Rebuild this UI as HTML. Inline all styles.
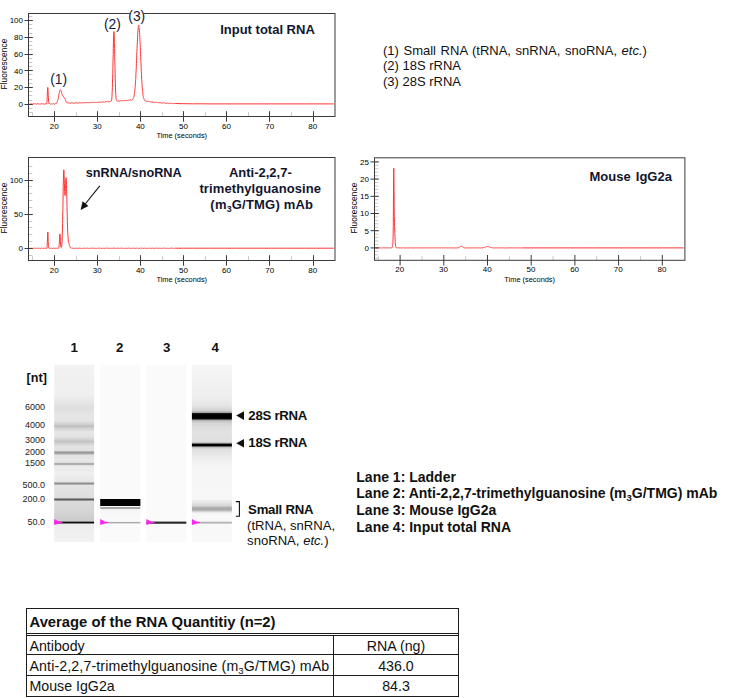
<!DOCTYPE html>
<html><head><meta charset="utf-8"><title>RNA immunoprecipitation</title>
<style>
html,body{margin:0;padding:0;background:#fff;}
body{width:734px;height:698px;position:relative;overflow:hidden;font-family:"Liberation Sans",sans-serif;color:#111;}
svg{position:absolute;left:0;top:0;}
svg text{font-family:"Liberation Sans",sans-serif;fill:#000;}
.tk{font-size:8px;}
.al{font-size:7.4px;}
.yl{font-size:8.3px;letter-spacing:0.1px;}
.t{position:absolute;white-space:nowrap;line-height:1;}
.b{font-weight:bold;}
.pk{font-size:13.8px;color:#15183a;}
.ttl{font-size:13px;font-weight:bold;color:#12152e;}
.sz{font-size:9px;color:#222;text-align:right;width:30px;}
.ln{font-size:13.3px;font-weight:bold;width:20px;text-align:center;}
.gl{font-size:13.2px;font-weight:bold;letter-spacing:-0.25px;}
sub{font-size:68%;vertical-align:baseline;position:relative;top:0.28em;line-height:0;}
table{position:absolute;left:26px;top:608px;border-collapse:separate;border-spacing:0;font-size:14.2px;table-layout:fixed;width:433px;}
td{border:0 solid #1c1c1c;border-left-width:1px;border-bottom-width:1px;padding:0 0 0 2.5px;box-sizing:border-box;white-space:nowrap;line-height:1;vertical-align:top;overflow:hidden;}
td.c{text-align:center;padding-left:0;border-right-width:1px;}
td.h{font-weight:bold;font-size:14.8px;height:28px;border-top-width:1px;border-right-width:1px;border-bottom:3px double #1c1c1c;padding-top:6.4px;}
tr.r2 td{height:19px;padding-top:2.7px;}
tr.r3 td{height:21px;padding-top:4px;}
tr.r4 td{height:21px;padding-top:3.2px;}
</style></head><body>
<svg width="734" height="698" viewBox="0 0 734 698">
<line x1="29.00" y1="112.50" x2="32.30" y2="112.50" stroke="#c8c8c8" stroke-width="1"/>
<line x1="29.00" y1="108.50" x2="32.30" y2="108.50" stroke="#c8c8c8" stroke-width="1"/>
<line x1="29.00" y1="104.50" x2="32.30" y2="104.50" stroke="#c8c8c8" stroke-width="1"/>
<line x1="29.00" y1="100.50" x2="32.30" y2="100.50" stroke="#c8c8c8" stroke-width="1"/>
<line x1="29.00" y1="95.50" x2="32.30" y2="95.50" stroke="#c8c8c8" stroke-width="1"/>
<line x1="29.00" y1="91.50" x2="32.30" y2="91.50" stroke="#c8c8c8" stroke-width="1"/>
<line x1="29.00" y1="87.50" x2="32.30" y2="87.50" stroke="#c8c8c8" stroke-width="1"/>
<line x1="29.00" y1="83.50" x2="32.30" y2="83.50" stroke="#c8c8c8" stroke-width="1"/>
<line x1="29.00" y1="79.50" x2="32.30" y2="79.50" stroke="#c8c8c8" stroke-width="1"/>
<line x1="29.00" y1="74.50" x2="32.30" y2="74.50" stroke="#c8c8c8" stroke-width="1"/>
<line x1="29.00" y1="70.50" x2="32.30" y2="70.50" stroke="#c8c8c8" stroke-width="1"/>
<line x1="29.00" y1="66.50" x2="32.30" y2="66.50" stroke="#c8c8c8" stroke-width="1"/>
<line x1="29.00" y1="62.50" x2="32.30" y2="62.50" stroke="#c8c8c8" stroke-width="1"/>
<line x1="29.00" y1="58.50" x2="32.30" y2="58.50" stroke="#c8c8c8" stroke-width="1"/>
<line x1="29.00" y1="54.50" x2="32.30" y2="54.50" stroke="#c8c8c8" stroke-width="1"/>
<line x1="29.00" y1="49.50" x2="32.30" y2="49.50" stroke="#c8c8c8" stroke-width="1"/>
<line x1="29.00" y1="45.50" x2="32.30" y2="45.50" stroke="#c8c8c8" stroke-width="1"/>
<line x1="29.00" y1="41.50" x2="32.30" y2="41.50" stroke="#c8c8c8" stroke-width="1"/>
<line x1="29.00" y1="37.50" x2="32.30" y2="37.50" stroke="#c8c8c8" stroke-width="1"/>
<line x1="29.00" y1="33.50" x2="32.30" y2="33.50" stroke="#c8c8c8" stroke-width="1"/>
<line x1="29.00" y1="28.50" x2="32.30" y2="28.50" stroke="#c8c8c8" stroke-width="1"/>
<line x1="29.00" y1="24.50" x2="32.30" y2="24.50" stroke="#c8c8c8" stroke-width="1"/>
<line x1="29.00" y1="20.50" x2="32.30" y2="20.50" stroke="#c8c8c8" stroke-width="1"/>
<line x1="29.00" y1="16.50" x2="32.30" y2="16.50" stroke="#c8c8c8" stroke-width="1"/>
<line x1="32.50" y1="112.30" x2="32.50" y2="116.50" stroke="#c8c8c8" stroke-width="1"/>
<line x1="76.50" y1="112.30" x2="76.50" y2="116.50" stroke="#c8c8c8" stroke-width="1"/>
<line x1="119.50" y1="112.30" x2="119.50" y2="116.50" stroke="#c8c8c8" stroke-width="1"/>
<line x1="162.50" y1="112.30" x2="162.50" y2="116.50" stroke="#c8c8c8" stroke-width="1"/>
<line x1="205.50" y1="112.30" x2="205.50" y2="116.50" stroke="#c8c8c8" stroke-width="1"/>
<line x1="248.50" y1="112.30" x2="248.50" y2="116.50" stroke="#c8c8c8" stroke-width="1"/>
<line x1="291.50" y1="112.30" x2="291.50" y2="116.50" stroke="#c8c8c8" stroke-width="1"/>
<polyline points="29.9,103.6 30.0,103.7 30.1,103.8 30.3,103.9 30.4,104.0 30.5,104.0 30.7,103.9 30.8,103.9 30.9,103.8 31.0,103.8 31.2,103.9 31.3,104.0 31.4,104.0 31.6,104.0 31.7,104.0 31.8,103.9 32.0,103.9 32.1,103.9 32.2,104.0 32.3,104.1 32.5,104.2 32.6,104.3 32.7,104.3 32.9,104.2 33.0,104.0 33.1,103.8 33.2,103.7 33.4,103.7 33.5,103.7 33.6,103.7 33.8,103.8 33.9,103.8 34.0,103.8 34.1,103.8 34.3,103.7 34.4,103.8 34.5,103.8 34.7,104.0 34.8,104.1 34.9,104.1 35.1,104.1 35.2,104.0 35.3,103.9 35.4,103.8 35.6,103.8 35.7,103.8 35.8,103.9 36.0,104.0 36.1,104.2 36.2,104.2 36.3,104.2 36.5,104.1 36.6,104.0 36.7,103.9 36.9,103.9 37.0,103.9 37.1,103.9 37.3,103.9 37.4,103.8 37.5,103.7 37.6,103.6 37.8,103.6 37.9,103.6 38.0,103.6 38.2,103.8 38.3,104.0 38.4,104.1 38.5,104.1 38.7,104.1 38.8,104.0 38.9,103.9 39.1,103.8 39.2,103.8 39.3,103.9 39.5,104.0 39.6,104.0 39.7,104.1 39.8,104.0 40.0,104.0 40.1,103.9 40.2,103.9 40.4,104.0 40.5,104.1 40.6,104.1 40.7,104.2 40.9,104.1 41.0,104.0 41.1,103.8 41.3,103.6 41.4,103.5 41.5,103.5 41.6,103.6 41.8,103.7 41.9,103.9 42.0,103.9 42.2,103.9 42.3,103.9 42.4,103.9 42.6,103.9 42.7,103.9 42.8,104.0 42.9,104.1 43.1,104.1 43.2,104.1 43.3,104.0 43.5,103.9 43.6,103.8 43.7,103.8 43.8,103.9 44.0,104.0 44.1,104.1 44.2,104.2 44.4,104.2 44.5,104.1 44.6,104.0 44.8,103.9 44.9,103.8 45.0,103.7 45.1,103.7 45.3,103.8 45.4,103.8 45.5,103.8 45.7,103.7 45.8,103.7 45.9,103.7 46.0,103.7 46.2,103.8 46.3,103.9 46.4,104.0 46.6,103.9 46.7,103.5 46.8,102.7 47.0,101.3 47.1,99.2 47.2,96.6 47.3,93.7 47.5,90.8 47.6,88.5 47.7,87.4 47.9,87.7 48.0,89.3 48.1,91.8 48.2,94.8 48.4,97.6 48.5,100.0 48.6,101.7 48.8,102.8 48.9,103.4 49.0,103.7 49.1,103.7 49.3,103.6 49.4,103.5 49.5,103.5 49.7,103.6 49.8,103.7 49.9,103.9 50.1,104.0 50.2,104.1 50.3,104.1 50.4,104.1 50.6,104.0 50.7,104.0 50.8,104.0 51.0,104.0 51.1,104.1 51.2,104.1 51.3,104.0 51.5,104.0 51.6,103.9 51.7,103.8 51.9,103.8 52.0,103.9 52.1,104.0 52.3,104.1 52.4,104.1 52.5,104.1 52.6,104.0 52.8,103.8 52.9,103.7 53.0,103.6 53.2,103.6 53.3,103.6 53.4,103.7 53.5,103.8 53.7,103.9 53.8,103.9 53.9,103.9 54.1,103.9 54.2,103.9 54.3,104.0 54.5,104.1 54.6,104.2 54.7,104.2 54.8,104.2 55.0,104.0 55.1,103.9 55.2,103.7 55.4,103.7 55.5,103.7 55.6,103.7 55.7,103.8 55.9,103.8 56.0,103.8 56.1,103.6 56.3,103.5 56.4,103.3 56.5,103.1 56.6,102.9 56.8,102.7 56.9,102.5 57.0,102.3 57.2,101.9 57.3,101.5 57.4,101.0 57.6,100.6 57.7,100.2 57.8,99.8 57.9,99.4 58.1,99.0 58.2,98.5 58.3,97.9 58.5,97.2 58.6,96.4 58.7,95.6 58.8,94.8 59.0,94.1 59.1,93.5 59.2,92.9 59.4,92.3 59.5,91.7 59.6,91.2 59.8,90.7 59.9,90.3 60.0,90.0 60.1,89.9 60.3,89.9 60.4,89.9 60.5,90.0 60.7,90.1 60.8,90.2 60.9,90.3 61.0,90.6 61.2,90.9 61.3,91.3 61.4,91.9 61.6,92.5 61.7,93.1 61.8,93.6 61.9,94.0 62.1,94.4 62.2,94.8 62.3,95.1 62.5,95.5 62.6,95.8 62.7,96.1 62.9,96.2 63.0,96.3 63.1,96.4 63.2,96.4 63.4,96.4 63.5,96.5 63.6,96.7 63.8,97.0 63.9,97.2 64.0,97.5 64.1,97.7 64.3,97.8 64.4,97.9 64.5,98.0 64.7,98.2 64.8,98.5 64.9,98.8 65.1,99.2 65.2,99.5 65.3,99.8 65.4,100.1 65.6,100.3 65.7,100.6 65.8,100.9 66.0,101.3 66.1,101.7 66.2,102.0 66.3,102.3 66.5,102.4 66.6,102.5 66.7,102.4 66.9,102.4 67.0,102.4 67.1,102.5 67.3,102.6 67.4,102.8 67.5,102.9 67.6,102.9 67.8,102.9 67.9,102.9 68.0,102.8 68.2,102.9 68.3,102.9 68.4,103.0 68.5,103.1 68.7,103.1 68.8,103.0 68.9,102.9 69.1,102.8 69.2,102.8 69.3,102.8 69.4,102.9 69.6,103.0 69.7,103.2 69.8,103.3 70.0,103.4 70.1,103.4 70.2,103.3 70.4,103.2 70.5,103.1 70.6,103.1 70.7,103.1 70.9,103.1 71.0,103.1 71.1,103.0 71.3,102.9 71.4,102.8 71.5,102.8 71.6,102.8 71.8,102.9 71.9,103.0 72.0,103.1 72.2,103.2 72.3,103.1 72.4,103.0 72.6,102.9 72.7,102.8 72.8,102.8 72.9,102.8 73.1,102.9 73.2,103.0 73.3,103.1 73.5,103.1 73.6,103.1 73.7,103.1 73.8,103.1 74.0,103.1 74.1,103.2 74.2,103.3 74.4,103.3 74.5,103.3 74.6,103.2 74.8,103.1 74.9,102.9 75.0,102.7 75.1,102.7 75.3,102.7 75.4,102.8 75.5,102.9 75.7,103.0 75.8,103.0 75.9,103.0 76.0,102.9 76.2,102.8 76.3,102.8 76.4,102.9 76.6,102.9 76.7,103.0 76.8,103.0 76.9,103.0 77.1,102.9 77.2,102.8 77.3,102.8 77.5,102.8 77.6,103.0 77.7,103.1 77.9,103.3 78.0,103.3 78.1,103.3 78.2,103.2 78.4,103.1 78.5,102.9 78.6,102.8 78.8,102.8 78.9,102.8 79.0,102.8 79.1,102.8 79.3,102.8 79.4,102.7 79.5,102.7 79.7,102.7 79.8,102.7 79.9,102.8 80.1,102.9 80.2,103.0 80.3,103.0 80.4,103.0 80.6,102.9 80.7,102.8 80.8,102.7 81.0,102.6 81.1,102.7 81.2,102.8 81.3,103.0 81.5,103.1 81.6,103.1 81.7,103.1 81.9,103.0 82.0,103.0 82.1,103.0 82.2,103.0 82.4,103.0 82.5,103.0 82.6,102.9 82.8,102.8 82.9,102.7 83.0,102.5 83.2,102.4 83.3,102.4 83.4,102.5 83.5,102.7 83.7,102.8 83.8,102.9 83.9,102.9 84.1,102.9 84.2,102.8 84.3,102.7 84.4,102.7 84.6,102.7 84.7,102.7 84.8,102.8 85.0,102.8 85.1,102.8 85.2,102.8 85.4,102.7 85.5,102.7 85.6,102.8 85.7,102.9 85.9,103.0 86.0,103.1 86.1,103.1 86.3,103.0 86.4,102.8 86.5,102.7 86.6,102.5 86.8,102.4 86.9,102.4 87.0,102.5 87.2,102.5 87.3,102.6 87.4,102.6 87.6,102.6 87.7,102.5 87.8,102.5 87.9,102.6 88.1,102.7 88.2,102.8 88.3,102.8 88.5,102.8 88.6,102.8 88.7,102.7 88.8,102.5 89.0,102.5 89.1,102.5 89.2,102.6 89.4,102.7 89.5,102.8 89.6,102.9 89.7,102.9 89.9,102.9 90.0,102.7 90.1,102.6 90.3,102.6 90.4,102.5 90.5,102.5 90.7,102.5 90.8,102.5 90.9,102.4 91.0,102.3 91.2,102.2 91.3,102.2 91.4,102.3 91.6,102.4 91.7,102.5 91.8,102.7 91.9,102.7 92.1,102.7 92.2,102.6 92.3,102.5 92.5,102.4 92.6,102.4 92.7,102.4 92.9,102.5 93.0,102.6 93.1,102.6 93.2,102.6 93.4,102.6 93.5,102.5 93.6,102.5 93.8,102.5 93.9,102.6 94.0,102.6 94.1,102.7 94.3,102.6 94.4,102.5 94.5,102.3 94.7,102.1 94.8,102.0 94.9,102.0 95.1,102.1 95.2,102.2 95.3,102.3 95.4,102.4 95.6,102.4 95.7,102.4 95.8,102.4 96.0,102.4 96.1,102.4 96.2,102.4 96.3,102.5 96.5,102.5 96.6,102.5 96.7,102.4 96.9,102.3 97.0,102.2 97.1,102.2 97.2,102.2 97.4,102.3 97.5,102.5 97.6,102.6 97.8,102.6 97.9,102.5 98.0,102.4 98.2,102.2 98.3,102.1 98.4,102.0 98.5,102.0 98.7,102.0 98.8,102.1 98.9,102.1 99.1,102.1 99.2,102.0 99.3,102.0 99.4,102.0 99.6,102.1 99.7,102.2 99.8,102.3 100.0,102.4 100.1,102.5 100.2,102.4 100.4,102.3 100.5,102.2 100.6,102.0 100.7,102.0 100.9,102.1 101.0,102.2 101.1,102.3 101.3,102.3 101.4,102.3 101.5,102.2 101.6,102.1 101.8,102.1 101.9,102.1 102.0,102.1 102.2,102.1 102.3,102.1 102.4,102.0 102.5,101.9 102.7,101.8 102.8,101.7 102.9,101.6 103.1,101.7 103.2,101.8 103.3,102.0 103.5,102.1 103.6,102.2 103.7,102.2 103.8,102.2 104.0,102.1 104.1,102.0 104.2,102.0 104.4,102.0 104.5,102.0 104.6,102.1 104.7,102.1 104.9,102.0 105.0,101.9 105.1,101.8 105.3,101.8 105.4,101.8 105.5,101.9 105.7,102.0 105.8,102.1 105.9,102.1 106.0,102.0 106.2,101.8 106.3,101.6 106.4,101.5 106.6,101.5 106.7,101.5 106.8,101.6 106.9,101.7 107.1,101.8 107.2,101.8 107.3,101.8 107.5,101.8 107.6,101.8 107.7,101.8 107.9,101.9 108.0,102.0 108.1,102.0 108.2,102.0 108.4,101.9 108.5,101.8 108.6,101.6 108.8,101.5 108.9,101.5 109.0,101.6 109.1,101.7 109.3,101.8 109.4,101.8 109.5,101.8 109.7,101.7 109.8,101.6 109.9,101.5 110.0,101.4 110.2,101.4 110.3,101.5 110.4,101.5 110.6,101.4 110.7,101.4 110.8,101.2 111.0,101.1 111.1,101.0 111.2,100.9 111.3,100.8 111.5,100.5 111.6,100.0 111.7,99.2 111.9,97.9 112.0,96.2 112.1,93.9 112.2,91.0 112.4,87.6 112.5,83.5 112.6,78.8 112.8,73.4 112.9,67.5 113.0,61.2 113.2,54.8 113.3,48.5 113.4,42.9 113.5,38.1 113.7,34.5 113.8,32.3 113.9,31.5 114.1,32.3 114.2,34.5 114.3,38.0 114.4,42.6 114.6,48.2 114.7,54.3 114.8,60.8 115.0,67.2 115.1,73.2 115.2,78.7 115.4,83.6 115.5,87.6 115.6,91.0 115.7,93.7 115.9,95.8 116.0,97.5 116.1,98.7 116.3,99.6 116.4,100.2 116.5,100.5 116.6,100.6 116.8,100.7 116.9,100.8 117.0,100.9 117.2,101.0 117.3,101.1 117.4,101.2 117.5,101.3 117.7,101.2 117.8,101.1 117.9,100.9 118.1,100.8 118.2,100.8 118.3,100.8 118.5,100.9 118.6,100.9 118.7,101.0 118.8,101.0 119.0,100.9 119.1,100.9 119.2,101.0 119.4,101.0 119.5,101.2 119.6,101.3 119.7,101.3 119.9,101.3 120.0,101.2 120.1,101.0 120.3,100.9 120.4,100.8 120.5,100.7 120.7,100.7 120.8,100.8 120.9,100.9 121.0,100.9 121.2,100.9 121.3,100.8 121.4,100.7 121.6,100.7 121.7,100.7 121.8,100.7 121.9,100.8 122.1,100.8 122.2,100.8 122.3,100.7 122.5,100.6 122.6,100.5 122.7,100.5 122.8,100.5 123.0,100.7 123.1,100.8 123.2,101.0 123.4,101.0 123.5,101.0 123.6,100.9 123.8,100.8 123.9,100.7 124.0,100.7 124.1,100.6 124.3,100.6 124.4,100.6 124.5,100.6 124.7,100.5 124.8,100.4 124.9,100.3 125.0,100.3 125.2,100.3 125.3,100.4 125.4,100.5 125.6,100.6 125.7,100.6 125.8,100.5 126.0,100.4 126.1,100.3 126.2,100.2 126.3,100.2 126.5,100.2 126.6,100.3 126.7,100.4 126.9,100.5 127.0,100.5 127.1,100.5 127.2,100.5 127.4,100.5 127.5,100.5 127.6,100.5 127.8,100.6 127.9,100.6 128.0,100.5 128.2,100.4 128.3,100.2 128.4,100.0 128.5,99.9 128.7,99.9 128.8,100.0 128.9,100.1 129.1,100.2 129.2,100.3 129.3,100.2 129.4,100.1 129.6,100.1 129.7,100.0 129.8,100.0 130.0,100.0 130.1,100.1 130.2,100.1 130.3,100.1 130.5,100.0 130.6,100.0 130.7,99.9 130.9,99.9 131.0,100.0 131.1,100.1 131.3,100.3 131.4,100.3 131.5,100.3 131.6,100.2 131.8,100.0 131.9,99.8 132.0,99.7 132.2,99.6 132.3,99.5 132.4,99.5 132.5,99.4 132.7,99.3 132.8,99.2 132.9,99.0 133.1,98.8 133.2,98.5 133.3,98.4 133.5,98.2 133.6,97.9 133.7,97.6 133.8,97.1 134.0,96.5 134.1,95.8 134.2,95.0 134.4,94.2 134.5,93.3 134.6,92.4 134.7,91.4 134.9,90.3 135.0,89.0 135.1,87.4 135.3,85.7 135.4,83.7 135.5,81.7 135.7,79.5 135.8,77.2 135.9,74.8 136.0,72.2 136.2,69.4 136.3,66.5 136.4,63.4 136.6,60.3 136.7,57.2 136.8,54.2 136.9,51.3 137.1,48.4 137.2,45.5 137.3,42.7 137.5,39.9 137.6,37.2 137.7,34.7 137.8,32.4 138.0,30.4 138.1,28.8 138.2,27.5 138.4,26.5 138.5,25.8 138.6,25.4 138.8,25.3 138.9,25.6 139.0,26.3 139.1,27.4 139.3,28.8 139.4,30.5 139.5,32.4 139.7,34.5 139.8,36.8 139.9,39.2 140.0,41.7 140.2,44.5 140.3,47.5 140.4,50.6 140.6,53.7 140.7,56.9 140.8,60.1 141.0,63.1 141.1,66.0 141.2,68.9 141.3,71.7 141.5,74.4 141.6,77.0 141.7,79.4 141.9,81.7 142.0,83.7 142.1,85.6 142.2,87.2 142.4,88.8 142.5,90.2 142.6,91.6 142.8,92.9 142.9,94.2 143.0,95.2 143.1,96.1 143.3,96.8 143.4,97.3 143.5,97.8 143.7,98.2 143.8,98.5 143.9,98.9 144.1,99.2 144.2,99.5 144.3,99.7 144.4,99.8 144.6,99.9 144.7,100.1 144.8,100.2 145.0,100.4 145.1,100.6 145.2,100.9 145.3,101.0 145.5,101.1 145.6,101.1 145.7,101.0 145.9,101.0 146.0,100.9 146.1,101.0 146.3,101.1 146.4,101.2 146.5,101.3 146.6,101.4 146.8,101.4 146.9,101.4 147.0,101.4 147.2,101.4 147.3,101.4 147.4,101.5 147.5,101.6 147.7,101.6 147.8,101.5 147.9,101.4 148.1,101.2 148.2,101.1 148.3,101.1 148.5,101.2 148.6,101.3 148.7,101.5 148.8,101.6 149.0,101.7 149.1,101.7 149.2,101.7 149.4,101.7 149.5,101.7 149.6,101.7 149.7,101.8 149.9,101.9 150.0,101.9 150.1,101.9 150.3,101.9 150.4,101.8 150.5,101.8 150.6,101.8 150.8,101.9 150.9,102.0 151.0,102.1 151.2,102.2 151.3,102.2 151.4,102.1 151.6,102.0 151.7,101.8 151.8,101.8 151.9,101.7 152.1,101.8 152.2,101.9 152.3,101.9 152.5,102.0 152.6,102.0 152.7,102.0 152.8,102.0 153.0,102.0 153.1,102.2 153.2,102.3 153.4,102.4 153.5,102.5 153.6,102.5 153.8,102.4 153.9,102.3 154.0,102.2 154.1,102.1 154.3,102.2 154.4,102.3 154.5,102.4 154.7,102.5 154.8,102.6 154.9,102.6 155.0,102.5 155.2,102.4 155.3,102.4 155.4,102.4 155.6,102.4 155.7,102.4 155.8,102.4 156.0,102.4 156.1,102.3 156.2,102.2 156.3,102.1 156.5,102.2 156.6,102.3 156.7,102.5 156.9,102.6 157.0,102.8 157.1,102.9 157.2,102.8 157.4,102.8 157.5,102.7 157.6,102.6 157.8,102.6 157.9,102.7 158.0,102.8 158.1,102.8 158.3,102.8 158.4,102.7 158.5,102.7 158.7,102.6 158.8,102.7 158.9,102.7 159.1,102.8 159.2,102.9 159.3,102.9 159.4,102.9 159.6,102.8 159.7,102.6 159.8,102.5 160.0,102.4 160.1,102.4 160.2,102.6 160.3,102.7 160.5,102.8 160.6,102.9 160.7,102.9 160.9,102.9 161.0,102.9 161.1,102.9 161.3,103.0 161.4,103.1 161.5,103.2 161.6,103.2 161.8,103.1 161.9,103.0 162.0,102.9 162.2,102.8 162.3,102.8 162.4,102.9 162.5,103.0 162.7,103.1 162.8,103.2 162.9,103.2 163.1,103.1 163.2,103.0 163.3,102.9 163.4,102.8 163.6,102.8 163.7,102.9 163.8,102.9 164.0,102.9 164.1,102.9 164.2,102.9 164.4,102.9 164.5,102.9 164.6,102.9 164.7,103.1 164.9,103.3 165.0,103.4 165.1,103.5 165.3,103.5 165.4,103.4 165.5,103.3 165.6,103.2 165.8,103.1 165.9,103.1 166.0,103.1 166.2,103.2 166.3,103.3 166.4,103.3 166.6,103.2 166.7,103.2 166.8,103.1 166.9,103.1 167.1,103.2 167.2,103.2 167.3,103.3 167.5,103.3 167.6,103.2 167.7,103.1 167.8,103.0 168.0,102.9 168.1,102.9 168.2,103.0 168.4,103.2 168.5,103.3 168.6,103.5 168.8,103.6 168.9,103.6 169.0,103.5 169.1,103.4 169.3,103.4 169.4,103.4 169.5,103.5 169.7,103.5 169.8,103.5 169.9,103.4 170.0,103.3 170.2,103.2 170.3,103.2 170.4,103.2 170.6,103.2 170.7,103.4 170.8,103.5 170.9,103.5 171.1,103.5 171.2,103.4 171.3,103.3 171.5,103.2 171.6,103.1 171.7,103.1 171.9,103.2 172.0,103.3 172.1,103.4 172.2,103.4 172.4,103.4 172.5,103.4 172.6,103.4 172.8,103.5 172.9,103.6 173.0,103.7 173.1,103.8 173.3,103.8 173.4,103.8 173.5,103.6 173.7,103.5 173.8,103.3 173.9,103.3 174.1,103.3 174.2,103.4 174.3,103.5 174.4,103.6 174.6,103.6 174.7,103.5 174.8,103.5 175.0,103.4 175.1,103.4 175.2,103.5 183.8,103.7 192.5,103.8 201.1,103.8 209.7,103.9 218.3,103.9 226.9,103.9 235.6,103.9 244.2,103.9 252.8,103.9 261.4,103.9 270.0,103.9 278.7,103.9 287.3,103.9 295.9,103.9 304.5,103.9 313.1,103.9 321.8,103.9 330.4,103.9 333.8,103.9" fill="none" stroke="#ff3434" stroke-width="1.0" stroke-linejoin="round"/>
<rect x="28.50" y="13.50" width="306.50" height="103.00" fill="none" stroke="#3a3a3a" stroke-width="1"/>
<line x1="24.50" y1="104.50" x2="32.80" y2="104.50" stroke="#3a3a3a" stroke-width="1"/>
<text x="23.00" y="107.15" text-anchor="end" class="tk">0</text>
<line x1="24.50" y1="87.50" x2="32.80" y2="87.50" stroke="#3a3a3a" stroke-width="1"/>
<text x="23.00" y="90.40" text-anchor="end" class="tk">20</text>
<line x1="24.50" y1="70.50" x2="32.80" y2="70.50" stroke="#3a3a3a" stroke-width="1"/>
<text x="23.00" y="73.65" text-anchor="end" class="tk">40</text>
<line x1="24.50" y1="54.50" x2="32.80" y2="54.50" stroke="#3a3a3a" stroke-width="1"/>
<text x="23.00" y="56.90" text-anchor="end" class="tk">60</text>
<line x1="24.50" y1="37.50" x2="32.80" y2="37.50" stroke="#3a3a3a" stroke-width="1"/>
<text x="23.00" y="40.15" text-anchor="end" class="tk">80</text>
<line x1="24.50" y1="20.50" x2="32.80" y2="20.50" stroke="#3a3a3a" stroke-width="1"/>
<text x="23.00" y="23.40" text-anchor="end" class="tk">100</text>
<line x1="54.50" y1="111.20" x2="54.50" y2="121.70" stroke="#3a3a3a" stroke-width="1"/>
<text x="54.15" y="128.50" text-anchor="middle" class="tk">20</text>
<line x1="97.50" y1="111.20" x2="97.50" y2="121.70" stroke="#3a3a3a" stroke-width="1"/>
<text x="97.25" y="128.50" text-anchor="middle" class="tk">30</text>
<line x1="140.50" y1="111.20" x2="140.50" y2="121.70" stroke="#3a3a3a" stroke-width="1"/>
<text x="140.35" y="128.50" text-anchor="middle" class="tk">40</text>
<line x1="183.50" y1="111.20" x2="183.50" y2="121.70" stroke="#3a3a3a" stroke-width="1"/>
<text x="183.45" y="128.50" text-anchor="middle" class="tk">50</text>
<line x1="226.50" y1="111.20" x2="226.50" y2="121.70" stroke="#3a3a3a" stroke-width="1"/>
<text x="226.55" y="128.50" text-anchor="middle" class="tk">60</text>
<line x1="269.50" y1="111.20" x2="269.50" y2="121.70" stroke="#3a3a3a" stroke-width="1"/>
<text x="269.65" y="128.50" text-anchor="middle" class="tk">70</text>
<line x1="313.50" y1="111.20" x2="313.50" y2="121.70" stroke="#3a3a3a" stroke-width="1"/>
<text x="312.75" y="128.50" text-anchor="middle" class="tk">80</text>
<text x="181.75" y="138.00" text-anchor="middle" class="al">Time (seconds)</text>
<text transform="translate(7.00,64.00) rotate(-90)" text-anchor="middle" class="yl">Fluorescence</text>
<rect x="129.8" y="12" width="14" height="3" fill="#fff"/>
<line x1="29.00" y1="255.50" x2="32.30" y2="255.50" stroke="#c8c8c8" stroke-width="1"/>
<line x1="29.00" y1="248.50" x2="32.30" y2="248.50" stroke="#c8c8c8" stroke-width="1"/>
<line x1="29.00" y1="241.50" x2="32.30" y2="241.50" stroke="#c8c8c8" stroke-width="1"/>
<line x1="29.00" y1="234.50" x2="32.30" y2="234.50" stroke="#c8c8c8" stroke-width="1"/>
<line x1="29.00" y1="227.50" x2="32.30" y2="227.50" stroke="#c8c8c8" stroke-width="1"/>
<line x1="29.00" y1="221.50" x2="32.30" y2="221.50" stroke="#c8c8c8" stroke-width="1"/>
<line x1="29.00" y1="214.50" x2="32.30" y2="214.50" stroke="#c8c8c8" stroke-width="1"/>
<line x1="29.00" y1="207.50" x2="32.30" y2="207.50" stroke="#c8c8c8" stroke-width="1"/>
<line x1="29.00" y1="200.50" x2="32.30" y2="200.50" stroke="#c8c8c8" stroke-width="1"/>
<line x1="29.00" y1="193.50" x2="32.30" y2="193.50" stroke="#c8c8c8" stroke-width="1"/>
<line x1="29.00" y1="186.50" x2="32.30" y2="186.50" stroke="#c8c8c8" stroke-width="1"/>
<line x1="29.00" y1="180.50" x2="32.30" y2="180.50" stroke="#c8c8c8" stroke-width="1"/>
<line x1="29.00" y1="173.50" x2="32.30" y2="173.50" stroke="#c8c8c8" stroke-width="1"/>
<line x1="29.00" y1="166.50" x2="32.30" y2="166.50" stroke="#c8c8c8" stroke-width="1"/>
<line x1="32.50" y1="256.30" x2="32.50" y2="260.50" stroke="#c8c8c8" stroke-width="1"/>
<line x1="76.50" y1="256.30" x2="76.50" y2="260.50" stroke="#c8c8c8" stroke-width="1"/>
<line x1="119.50" y1="256.30" x2="119.50" y2="260.50" stroke="#c8c8c8" stroke-width="1"/>
<line x1="162.50" y1="256.30" x2="162.50" y2="260.50" stroke="#c8c8c8" stroke-width="1"/>
<line x1="205.50" y1="256.30" x2="205.50" y2="260.50" stroke="#c8c8c8" stroke-width="1"/>
<line x1="248.50" y1="256.30" x2="248.50" y2="260.50" stroke="#c8c8c8" stroke-width="1"/>
<line x1="291.50" y1="256.30" x2="291.50" y2="260.50" stroke="#c8c8c8" stroke-width="1"/>
<polyline points="29.9,248.0 30.0,248.1 30.1,248.2 30.3,248.3 30.4,248.3 30.5,248.3 30.7,248.3 30.8,248.2 30.9,248.2 31.0,248.2 31.2,248.2 31.3,248.3 31.4,248.3 31.6,248.3 31.7,248.3 31.8,248.2 32.0,248.2 32.1,248.2 32.2,248.3 32.3,248.4 32.5,248.4 32.6,248.5 32.7,248.5 32.9,248.4 33.0,248.3 33.1,248.2 33.2,248.1 33.4,248.1 33.5,248.1 33.6,248.1 33.8,248.2 33.9,248.2 34.0,248.2 34.1,248.1 34.3,248.1 34.4,248.1 34.5,248.2 34.7,248.3 34.8,248.3 34.9,248.4 35.1,248.4 35.2,248.3 35.3,248.2 35.4,248.2 35.6,248.1 35.7,248.2 35.8,248.2 36.0,248.3 36.1,248.4 36.2,248.4 36.3,248.4 36.5,248.4 36.6,248.3 36.7,248.3 36.9,248.2 37.0,248.2 37.1,248.3 37.3,248.2 37.4,248.2 37.5,248.1 37.6,248.1 37.8,248.0 37.9,248.0 38.0,248.1 38.2,248.2 38.3,248.3 38.4,248.4 38.5,248.4 38.7,248.4 38.8,248.3 38.9,248.2 39.1,248.2 39.2,248.2 39.3,248.2 39.5,248.3 39.6,248.3 39.7,248.3 39.8,248.3 40.0,248.3 40.1,248.3 40.2,248.3 40.4,248.3 40.5,248.3 40.6,248.4 40.7,248.4 40.9,248.4 41.0,248.3 41.1,248.2 41.3,248.1 41.4,248.0 41.5,248.0 41.6,248.0 41.8,248.1 41.9,248.2 42.0,248.2 42.2,248.3 42.3,248.2 42.4,248.2 42.6,248.2 42.7,248.3 42.8,248.3 42.9,248.4 43.1,248.4 43.2,248.4 43.3,248.3 43.5,248.2 43.6,248.2 43.7,248.2 43.8,248.2 44.0,248.3 44.1,248.4 44.2,248.4 44.4,248.4 44.5,248.4 44.6,248.3 44.8,248.2 44.9,248.1 45.0,248.1 45.1,248.1 45.3,248.1 45.4,248.2 45.5,248.1 45.7,248.1 45.8,248.1 45.9,248.1 46.0,248.1 46.2,248.2 46.3,248.3 46.4,248.4 46.6,248.4 46.7,248.4 46.8,248.2 47.0,247.8 47.1,247.0 47.2,245.3 47.3,242.6 47.5,238.9 47.6,235.1 47.7,232.5 47.9,232.1 48.0,234.1 48.1,237.7 48.2,241.5 48.4,244.6 48.5,246.6 48.6,247.6 48.8,248.1 48.9,248.2 49.0,248.2 49.1,248.1 49.3,248.1 49.4,248.0 49.5,248.0 49.7,248.0 49.8,248.1 49.9,248.2 50.1,248.3 50.2,248.4 50.3,248.4 50.4,248.3 50.6,248.3 50.7,248.3 50.8,248.3 51.0,248.3 51.1,248.3 51.2,248.4 51.3,248.3 51.5,248.3 51.6,248.2 51.7,248.2 51.9,248.2 52.0,248.2 52.1,248.3 52.3,248.4 52.4,248.4 52.5,248.4 52.6,248.3 52.8,248.2 52.9,248.1 53.0,248.0 53.2,248.0 53.3,248.1 53.4,248.1 53.5,248.2 53.7,248.2 53.8,248.2 53.9,248.2 54.1,248.2 54.2,248.2 54.3,248.3 54.5,248.4 54.6,248.4 54.7,248.5 54.8,248.4 55.0,248.4 55.1,248.3 55.2,248.2 55.4,248.1 55.5,248.2 55.6,248.2 55.7,248.3 55.9,248.3 56.0,248.4 56.1,248.3 56.3,248.3 56.4,248.2 56.5,248.2 56.6,248.2 56.8,248.2 56.9,248.2 57.0,248.2 57.2,248.2 57.3,248.1 57.4,248.1 57.6,248.0 57.7,248.1 57.8,248.2 57.9,248.3 58.1,248.4 58.2,248.5 58.3,248.5 58.5,248.4 58.6,248.3 58.7,248.0 58.8,247.6 59.0,247.0 59.1,245.9 59.2,244.3 59.4,242.1 59.5,239.6 59.6,237.0 59.8,234.9 59.9,233.9 60.0,234.1 60.1,235.5 60.3,237.8 60.4,240.5 60.5,242.9 60.7,244.9 60.8,246.2 60.9,247.0 61.0,247.4 61.2,247.5 61.3,247.4 61.4,247.2 61.6,246.8 61.7,246.1 61.8,245.0 61.9,243.3 62.1,241.0 62.2,238.0 62.3,234.0 62.5,229.2 62.6,223.5 62.7,216.9 62.9,209.6 63.0,201.8 63.1,194.0 63.2,186.5 63.4,180.0 63.5,174.9 63.6,171.4 63.8,169.8 63.9,170.1 64.0,172.0 64.1,175.2 64.3,179.3 64.4,183.7 64.5,188.0 64.7,191.6 64.8,194.1 64.9,195.4 65.1,195.4 65.2,194.0 65.3,191.6 65.4,188.5 65.6,185.2 65.7,182.0 65.8,179.5 66.0,178.0 66.1,177.7 66.2,178.7 66.3,181.0 66.5,184.5 66.6,188.9 66.7,194.1 66.9,199.7 67.0,205.5 67.1,211.3 67.3,216.8 67.4,221.8 67.5,226.2 67.6,229.9 67.8,232.9 67.9,235.4 68.0,237.3 68.2,238.8 68.3,240.0 68.4,241.0 68.5,241.8 68.7,242.5 68.8,243.0 68.9,243.4 69.1,243.8 69.2,244.2 69.3,244.7 69.4,245.2 69.6,245.7 69.7,246.2 69.8,246.6 70.0,246.9 70.1,247.2 70.2,247.4 70.4,247.5 70.5,247.7 70.6,247.8 70.7,247.9 70.9,248.0 71.0,248.1 71.1,248.1 71.3,248.1 71.4,248.0 71.5,248.0 71.6,248.0 71.8,248.1 71.9,248.2 72.0,248.3 72.2,248.3 72.3,248.3 72.4,248.3 72.6,248.2 72.7,248.1 72.8,248.1 72.9,248.1 73.1,248.2 73.2,248.2 73.3,248.3 73.5,248.3 73.6,248.3 73.7,248.3 73.8,248.3 74.0,248.3 74.1,248.4 74.2,248.4 74.4,248.5 74.5,248.5 74.6,248.4 74.8,248.3 74.9,248.2 75.0,248.1 75.1,248.1 75.3,248.1 75.4,248.1 75.5,248.2 75.7,248.3 75.8,248.3 75.9,248.2 76.0,248.2 76.2,248.2 76.3,248.2 76.4,248.2 76.6,248.2 76.7,248.3 76.8,248.3 76.9,248.2 77.1,248.2 77.2,248.2 77.3,248.1 77.5,248.2 77.6,248.3 77.7,248.4 77.9,248.5 78.0,248.5 78.1,248.5 78.2,248.4 78.4,248.3 78.5,248.3 78.6,248.2 78.8,248.2 78.9,248.2 79.0,248.2 79.1,248.2 79.3,248.2 79.4,248.1 79.5,248.1 79.7,248.1 79.8,248.1 79.9,248.2 80.1,248.3 80.2,248.3 80.3,248.3 80.4,248.3 80.6,248.3 80.7,248.2 80.8,248.1 81.0,248.1 81.1,248.1 81.2,248.2 81.3,248.3 81.5,248.4 81.6,248.4 81.7,248.4 81.9,248.4 82.0,248.3 82.1,248.3 82.2,248.3 82.4,248.4 82.5,248.4 82.6,248.3 82.8,248.3 82.9,248.2 83.0,248.1 83.2,248.0 83.3,248.0 83.4,248.1 83.5,248.2 83.7,248.2 83.8,248.3 83.9,248.3 84.1,248.3 84.2,248.2 84.3,248.2 84.4,248.2 84.6,248.2 84.7,248.2 84.8,248.3 85.0,248.3 85.1,248.3 85.2,248.3 85.4,248.2 85.5,248.2 85.6,248.3 85.7,248.3 85.9,248.4 86.0,248.5 86.1,248.5 86.3,248.4 86.4,248.3 86.5,248.2 86.6,248.1 86.8,248.1 86.9,248.1 87.0,248.1 87.2,248.1 87.3,248.2 87.4,248.2 87.6,248.2 87.7,248.2 87.8,248.2 87.9,248.2 88.1,248.2 88.2,248.3 88.3,248.4 88.5,248.4 88.6,248.3 88.7,248.3 88.8,248.2 89.0,248.1 89.1,248.2 89.2,248.2 89.4,248.3 89.5,248.4 89.6,248.5 89.7,248.5 89.9,248.4 90.0,248.3 90.1,248.3 90.3,248.2 90.4,248.2 90.5,248.2 90.7,248.2 90.8,248.2 90.9,248.2 91.0,248.1 91.2,248.0 91.3,248.0 91.4,248.1 91.6,248.1 91.7,248.2 91.8,248.3 91.9,248.4 92.1,248.4 92.2,248.3 92.3,248.3 92.5,248.2 92.6,248.2 92.7,248.2 92.9,248.3 93.0,248.3 93.1,248.3 93.2,248.3 93.4,248.3 93.5,248.3 93.6,248.3 93.8,248.3 93.9,248.3 94.0,248.4 94.1,248.4 94.3,248.4 94.4,248.3 94.5,248.2 94.7,248.1 94.8,248.0 94.9,248.0 95.1,248.0 95.2,248.1 95.3,248.2 95.4,248.3 95.6,248.3 95.7,248.3 95.8,248.3 96.0,248.2 96.1,248.2 96.2,248.3 96.3,248.3 96.5,248.4 96.6,248.4 96.7,248.3 96.9,248.3 97.0,248.2 97.1,248.2 97.2,248.2 97.4,248.3 97.5,248.3 97.6,248.4 97.8,248.4 97.9,248.4 98.0,248.3 98.2,248.2 98.3,248.1 98.4,248.1 98.5,248.1 98.7,248.1 98.8,248.1 98.9,248.2 99.1,248.1 99.2,248.1 99.3,248.1 99.4,248.1 99.6,248.2 99.7,248.3 99.8,248.4 100.0,248.4 100.1,248.4 100.2,248.4 100.4,248.3 100.5,248.2 100.6,248.2 100.7,248.2 100.9,248.2 101.0,248.3 101.1,248.3 101.3,248.4 101.4,248.4 101.5,248.3 101.6,248.3 101.8,248.2 101.9,248.2 102.0,248.2 102.2,248.3 102.3,248.3 102.4,248.2 102.5,248.2 102.7,248.1 102.8,248.0 102.9,248.0 103.1,248.0 103.2,248.1 103.3,248.2 103.5,248.3 103.6,248.4 103.7,248.4 103.8,248.4 104.0,248.3 104.1,248.3 104.2,248.3 104.4,248.3 104.5,248.3 104.6,248.3 104.7,248.3 104.9,248.3 105.0,248.3 105.1,248.2 105.3,248.2 105.4,248.2 105.5,248.3 105.7,248.3 105.8,248.4 105.9,248.4 106.0,248.3 106.2,248.2 106.3,248.1 106.4,248.0 106.6,248.0 106.7,248.0 106.8,248.1 106.9,248.2 107.1,248.2 107.2,248.2 107.3,248.2 107.5,248.2 107.6,248.3 107.7,248.3 107.9,248.3 108.0,248.4 108.1,248.4 108.2,248.4 108.4,248.4 108.5,248.3 108.6,248.2 108.8,248.1 108.9,248.1 109.0,248.2 109.1,248.3 109.3,248.3 109.4,248.4 109.5,248.4 109.7,248.3 109.8,248.2 109.9,248.2 110.0,248.1 110.2,248.1 110.3,248.2 110.4,248.2 110.6,248.2 110.7,248.1 110.8,248.1 111.0,248.1 111.1,248.1 111.2,248.1 111.3,248.2 111.5,248.4 111.6,248.4 111.7,248.5 111.9,248.5 112.0,248.4 112.1,248.3 112.2,248.2 112.4,248.2 112.5,248.2 112.6,248.3 112.8,248.3 112.9,248.3 113.0,248.3 113.2,248.2 113.3,248.2 113.4,248.2 113.5,248.2 113.7,248.2 113.8,248.3 113.9,248.3 114.1,248.3 114.2,248.2 114.3,248.1 114.4,248.0 114.6,248.0 114.7,248.0 114.8,248.1 115.0,248.2 115.1,248.3 115.2,248.4 115.4,248.4 115.5,248.4 115.6,248.3 115.7,248.3 115.9,248.3 116.0,248.4 116.1,248.4 116.3,248.4 116.4,248.4 116.5,248.3 116.6,248.2 116.8,248.1 116.9,248.1 117.0,248.1 117.2,248.2 117.3,248.3 117.4,248.3 117.5,248.3 117.7,248.3 117.8,248.2 117.9,248.2 118.1,248.1 118.2,248.1 118.3,248.1 118.5,248.1 118.6,248.2 118.7,248.2 118.8,248.2 119.0,248.2 119.1,248.2 119.2,248.2 119.4,248.3 119.5,248.4 119.6,248.4 119.7,248.5 119.9,248.5 120.0,248.4 120.1,248.3 120.3,248.2 120.4,248.1 120.5,248.1 120.7,248.1 120.8,248.2 120.9,248.3 121.0,248.3 121.2,248.3 121.3,248.2 121.4,248.2 121.6,248.2 121.7,248.2 121.8,248.2 121.9,248.2 122.1,248.3 122.2,248.2 122.3,248.2 122.5,248.1 122.6,248.1 122.7,248.1 122.8,248.1 123.0,248.2 123.1,248.3 123.2,248.4 123.4,248.5 123.5,248.5 123.6,248.4 123.8,248.4 123.9,248.3 124.0,248.3 124.1,248.3 124.3,248.3 124.4,248.3 124.5,248.3 124.7,248.2 124.8,248.1 124.9,248.1 125.0,248.1 125.2,248.1 125.3,248.2 125.4,248.3 125.6,248.3 125.7,248.3 125.8,248.3 126.0,248.2 126.1,248.1 126.2,248.1 126.3,248.1 126.5,248.1 126.6,248.2 126.7,248.3 126.9,248.3 127.0,248.3 127.1,248.3 127.2,248.3 127.4,248.3 127.5,248.3 127.6,248.4 127.8,248.4 127.9,248.4 128.0,248.4 128.2,248.3 128.3,248.2 128.4,248.1 128.5,248.0 128.7,248.1 128.8,248.1 128.9,248.2 129.1,248.3 129.2,248.3 129.3,248.3 129.4,248.2 129.6,248.2 129.7,248.2 129.8,248.2 130.0,248.2 130.1,248.2 130.2,248.3 130.3,248.3 130.5,248.2 130.6,248.2 130.7,248.2 130.9,248.2 131.0,248.2 131.1,248.3 131.3,248.4 131.4,248.5 131.5,248.5 131.6,248.5 131.8,248.4 131.9,248.3 132.0,248.2 132.2,248.1 132.3,248.1 132.4,248.2 132.5,248.2 132.7,248.2 132.8,248.2 132.9,248.1 133.1,248.1 133.2,248.1 133.3,248.2 133.5,248.2 133.6,248.3 133.7,248.3 133.8,248.3 134.0,248.3 134.1,248.2 134.2,248.1 134.4,248.1 134.5,248.1 134.6,248.2 134.7,248.3 134.9,248.4 135.0,248.4 135.1,248.4 135.3,248.4 135.4,248.4 135.5,248.3 135.7,248.3 135.8,248.3 135.9,248.3 136.0,248.3 136.2,248.3 136.3,248.2 136.4,248.1 136.6,248.0 136.7,248.0 136.8,248.0 136.9,248.1 137.1,248.2 137.2,248.3 137.3,248.3 137.5,248.3 137.6,248.3 137.7,248.2 137.8,248.2 138.0,248.2 138.1,248.2 138.2,248.2 138.4,248.3 138.5,248.3 138.6,248.3 138.8,248.3 138.9,248.3 139.0,248.3 139.1,248.3 139.3,248.4 139.4,248.4 139.5,248.5 139.7,248.4 139.8,248.3 139.9,248.2 140.0,248.1 140.2,248.0 140.3,248.0 140.4,248.1 140.6,248.1 140.7,248.2 140.8,248.2 141.0,248.2 141.1,248.2 141.2,248.2 141.3,248.2 141.5,248.2 141.6,248.3 141.7,248.3 141.9,248.3 142.0,248.3 142.1,248.3 142.2,248.2 142.4,248.2 142.5,248.2 142.6,248.2 142.8,248.3 142.9,248.4 143.0,248.5 143.1,248.5 143.3,248.4 143.4,248.4 143.5,248.3 143.7,248.2 143.8,248.2 143.9,248.2 144.1,248.2 144.2,248.2 144.3,248.2 144.4,248.1 144.6,248.1 144.7,248.0 144.8,248.1 145.0,248.1 145.1,248.2 145.2,248.3 145.3,248.4 145.5,248.4 145.6,248.4 145.7,248.3 145.9,248.2 146.0,248.2 146.1,248.2 146.3,248.2 146.4,248.3 146.5,248.3 146.6,248.4 146.8,248.4 146.9,248.3 147.0,248.3 147.2,248.3 147.3,248.3 147.4,248.3 147.5,248.4 147.7,248.3 147.8,248.3 147.9,248.2 148.1,248.1 148.2,248.0 148.3,248.0 148.5,248.0 148.6,248.1 148.7,248.2 148.8,248.3 149.0,248.3 149.1,248.3 149.2,248.3 149.4,248.3 149.5,248.2 149.6,248.3 149.7,248.3 149.9,248.3 150.0,248.3 150.1,248.3 150.3,248.3 150.4,248.2 150.5,248.2 150.6,248.2 150.8,248.2 150.9,248.3 151.0,248.4 151.2,248.4 151.3,248.4 151.4,248.4 151.6,248.3 151.7,248.1 151.8,248.1 151.9,248.1 152.1,248.1 152.2,248.1 152.3,248.2 152.5,248.2 152.6,248.2 152.7,248.1 152.8,248.1 153.0,248.2 153.1,248.2 153.2,248.3 153.4,248.4 153.5,248.4 153.6,248.4 153.8,248.4 153.9,248.3 154.0,248.2 154.1,248.2 154.3,248.2 154.4,248.2 154.5,248.3 154.7,248.4 154.8,248.4 154.9,248.4 155.0,248.3 155.2,248.3 155.3,248.2 155.4,248.2 155.6,248.2 155.7,248.2 155.8,248.2 156.0,248.2 156.1,248.1 156.2,248.0 156.3,248.0 156.5,248.0 156.6,248.1 156.7,248.2 156.9,248.3 157.0,248.4 157.1,248.4 157.2,248.4 157.4,248.3 157.5,248.3 157.6,248.2 157.8,248.2 157.9,248.3 158.0,248.3 158.1,248.3 158.3,248.3 158.4,248.3 158.5,248.2 158.7,248.2 158.8,248.2 158.9,248.2 159.1,248.3 159.2,248.4 159.3,248.4 159.4,248.3 159.6,248.2 159.7,248.1 159.8,248.0 160.0,248.0 160.1,248.0 160.2,248.1 160.3,248.2 160.5,248.2 160.6,248.3 160.7,248.3 160.9,248.3 161.0,248.3 161.1,248.3 161.3,248.3 161.4,248.4 161.5,248.4 161.6,248.4 161.8,248.4 161.9,248.3 162.0,248.2 162.2,248.2 162.3,248.1 162.4,248.2 162.5,248.2 162.7,248.3 162.8,248.4 162.9,248.4 163.1,248.3 163.2,248.3 163.3,248.2 163.4,248.1 163.6,248.1 163.7,248.1 163.8,248.2 164.0,248.2 164.1,248.2 164.2,248.1 164.4,248.1 164.5,248.1 164.6,248.1 164.7,248.2 164.9,248.3 165.0,248.4 165.1,248.5 165.3,248.5 165.4,248.4 165.5,248.3 165.6,248.2 165.8,248.2 165.9,248.2 166.0,248.2 166.2,248.3 166.3,248.3 166.4,248.3 166.6,248.3 166.7,248.2 166.8,248.2 166.9,248.2 167.1,248.2 167.2,248.2 167.3,248.3 167.5,248.3 167.6,248.2 167.7,248.2 167.8,248.1 168.0,248.0 168.1,248.0 168.2,248.1 168.4,248.2 168.5,248.3 168.6,248.4 168.8,248.4 168.9,248.4 169.0,248.4 169.1,248.3 169.3,248.3 169.4,248.3 169.5,248.3 169.7,248.4 169.8,248.4 169.9,248.3 170.0,248.2 170.2,248.2 170.3,248.1 170.4,248.1 170.6,248.2 170.7,248.2 170.8,248.3 170.9,248.4 171.1,248.3 171.2,248.3 171.3,248.2 171.5,248.1 171.6,248.1 171.7,248.1 171.9,248.1 172.0,248.2 172.1,248.2 172.2,248.2 172.4,248.2 172.5,248.2 172.6,248.2 172.8,248.3 172.9,248.3 173.0,248.4 173.1,248.5 173.3,248.5 173.4,248.4 173.5,248.4 173.7,248.2 173.8,248.2 173.9,248.1 174.1,248.1 174.2,248.2 174.3,248.2 174.4,248.3 174.6,248.3 174.7,248.3 174.8,248.2 175.0,248.2 175.1,248.2 175.2,248.2 183.8,248.2 192.5,248.2 201.1,248.2 209.7,248.2 218.3,248.2 226.9,248.2 235.6,248.2 244.2,248.2 252.8,248.2 261.4,248.2 270.0,248.2 278.7,248.2 287.3,248.2 295.9,248.2 304.5,248.2 313.1,248.2 321.8,248.2 330.4,248.2 333.8,248.2" fill="none" stroke="#ff3434" stroke-width="1.0" stroke-linejoin="round"/>
<rect x="28.50" y="157.50" width="306.50" height="103.00" fill="none" stroke="#3a3a3a" stroke-width="1"/>
<line x1="24.50" y1="248.50" x2="32.80" y2="248.50" stroke="#3a3a3a" stroke-width="1"/>
<text x="23.00" y="251.35" text-anchor="end" class="tk">0</text>
<line x1="24.50" y1="214.50" x2="32.80" y2="214.50" stroke="#3a3a3a" stroke-width="1"/>
<text x="23.00" y="217.15" text-anchor="end" class="tk">50</text>
<line x1="24.50" y1="180.50" x2="32.80" y2="180.50" stroke="#3a3a3a" stroke-width="1"/>
<text x="23.00" y="182.95" text-anchor="end" class="tk">100</text>
<line x1="54.50" y1="255.20" x2="54.50" y2="265.70" stroke="#3a3a3a" stroke-width="1"/>
<text x="54.15" y="272.50" text-anchor="middle" class="tk">20</text>
<line x1="97.50" y1="255.20" x2="97.50" y2="265.70" stroke="#3a3a3a" stroke-width="1"/>
<text x="97.25" y="272.50" text-anchor="middle" class="tk">30</text>
<line x1="140.50" y1="255.20" x2="140.50" y2="265.70" stroke="#3a3a3a" stroke-width="1"/>
<text x="140.35" y="272.50" text-anchor="middle" class="tk">40</text>
<line x1="183.50" y1="255.20" x2="183.50" y2="265.70" stroke="#3a3a3a" stroke-width="1"/>
<text x="183.45" y="272.50" text-anchor="middle" class="tk">50</text>
<line x1="226.50" y1="255.20" x2="226.50" y2="265.70" stroke="#3a3a3a" stroke-width="1"/>
<text x="226.55" y="272.50" text-anchor="middle" class="tk">60</text>
<line x1="269.50" y1="255.20" x2="269.50" y2="265.70" stroke="#3a3a3a" stroke-width="1"/>
<text x="269.65" y="272.50" text-anchor="middle" class="tk">70</text>
<line x1="313.50" y1="255.20" x2="313.50" y2="265.70" stroke="#3a3a3a" stroke-width="1"/>
<text x="312.75" y="272.50" text-anchor="middle" class="tk">80</text>
<text x="181.75" y="282.00" text-anchor="middle" class="al">Time (seconds)</text>
<text transform="translate(7.00,208.00) rotate(-90)" text-anchor="middle" class="yl">Fluorescence</text>
<line x1="375.00" y1="258.22" x2="378.30" y2="258.22" stroke="#c8c8c8" stroke-width="1"/>
<line x1="375.00" y1="254.78" x2="378.30" y2="254.78" stroke="#c8c8c8" stroke-width="1"/>
<line x1="375.00" y1="251.34" x2="378.30" y2="251.34" stroke="#c8c8c8" stroke-width="1"/>
<line x1="375.00" y1="247.90" x2="378.30" y2="247.90" stroke="#c8c8c8" stroke-width="1"/>
<line x1="375.00" y1="244.46" x2="378.30" y2="244.46" stroke="#c8c8c8" stroke-width="1"/>
<line x1="375.00" y1="241.02" x2="378.30" y2="241.02" stroke="#c8c8c8" stroke-width="1"/>
<line x1="375.00" y1="237.58" x2="378.30" y2="237.58" stroke="#c8c8c8" stroke-width="1"/>
<line x1="375.00" y1="234.14" x2="378.30" y2="234.14" stroke="#c8c8c8" stroke-width="1"/>
<line x1="375.00" y1="230.70" x2="378.30" y2="230.70" stroke="#c8c8c8" stroke-width="1"/>
<line x1="375.00" y1="227.26" x2="378.30" y2="227.26" stroke="#c8c8c8" stroke-width="1"/>
<line x1="375.00" y1="223.82" x2="378.30" y2="223.82" stroke="#c8c8c8" stroke-width="1"/>
<line x1="375.00" y1="220.38" x2="378.30" y2="220.38" stroke="#c8c8c8" stroke-width="1"/>
<line x1="375.00" y1="216.94" x2="378.30" y2="216.94" stroke="#c8c8c8" stroke-width="1"/>
<line x1="375.00" y1="213.50" x2="378.30" y2="213.50" stroke="#c8c8c8" stroke-width="1"/>
<line x1="375.00" y1="210.06" x2="378.30" y2="210.06" stroke="#c8c8c8" stroke-width="1"/>
<line x1="375.00" y1="206.62" x2="378.30" y2="206.62" stroke="#c8c8c8" stroke-width="1"/>
<line x1="375.00" y1="203.18" x2="378.30" y2="203.18" stroke="#c8c8c8" stroke-width="1"/>
<line x1="375.00" y1="199.74" x2="378.30" y2="199.74" stroke="#c8c8c8" stroke-width="1"/>
<line x1="375.00" y1="196.30" x2="378.30" y2="196.30" stroke="#c8c8c8" stroke-width="1"/>
<line x1="375.00" y1="192.86" x2="378.30" y2="192.86" stroke="#c8c8c8" stroke-width="1"/>
<line x1="375.00" y1="189.42" x2="378.30" y2="189.42" stroke="#c8c8c8" stroke-width="1"/>
<line x1="375.00" y1="185.98" x2="378.30" y2="185.98" stroke="#c8c8c8" stroke-width="1"/>
<line x1="375.00" y1="182.54" x2="378.30" y2="182.54" stroke="#c8c8c8" stroke-width="1"/>
<line x1="375.00" y1="179.10" x2="378.30" y2="179.10" stroke="#c8c8c8" stroke-width="1"/>
<line x1="375.00" y1="175.66" x2="378.30" y2="175.66" stroke="#c8c8c8" stroke-width="1"/>
<line x1="375.00" y1="172.22" x2="378.30" y2="172.22" stroke="#c8c8c8" stroke-width="1"/>
<line x1="375.00" y1="168.78" x2="378.30" y2="168.78" stroke="#c8c8c8" stroke-width="1"/>
<line x1="375.00" y1="165.34" x2="378.30" y2="165.34" stroke="#c8c8c8" stroke-width="1"/>
<line x1="375.00" y1="161.90" x2="378.30" y2="161.90" stroke="#c8c8c8" stroke-width="1"/>
<line x1="378.25" y1="256.10" x2="378.25" y2="260.30" stroke="#c8c8c8" stroke-width="1"/>
<line x1="421.95" y1="256.10" x2="421.95" y2="260.30" stroke="#c8c8c8" stroke-width="1"/>
<line x1="465.65" y1="256.10" x2="465.65" y2="260.30" stroke="#c8c8c8" stroke-width="1"/>
<line x1="509.35" y1="256.10" x2="509.35" y2="260.30" stroke="#c8c8c8" stroke-width="1"/>
<line x1="553.05" y1="256.10" x2="553.05" y2="260.30" stroke="#c8c8c8" stroke-width="1"/>
<line x1="596.75" y1="256.10" x2="596.75" y2="260.30" stroke="#c8c8c8" stroke-width="1"/>
<line x1="640.45" y1="256.10" x2="640.45" y2="260.30" stroke="#c8c8c8" stroke-width="1"/>
<polyline points="375.2,247.8 375.3,247.8 375.5,247.9 375.6,247.9 375.7,247.9 375.8,247.9 376.0,247.9 376.1,247.9 376.2,247.9 376.4,247.9 376.5,247.9 376.6,247.9 376.8,247.9 376.9,247.9 377.0,247.9 377.2,247.9 377.3,247.9 377.4,247.9 377.6,247.9 377.7,247.9 377.8,248.0 377.9,248.0 378.1,248.0 378.2,248.0 378.3,247.9 378.5,247.9 378.6,247.8 378.7,247.8 378.9,247.8 379.0,247.9 379.1,247.9 379.3,247.9 379.4,247.9 379.5,247.9 379.6,247.9 379.8,247.9 379.9,247.9 380.0,247.9 380.2,247.9 380.3,247.9 380.4,247.9 380.6,247.9 380.7,247.9 380.8,247.9 381.0,247.9 381.1,247.9 381.2,247.9 381.4,247.9 381.5,248.0 381.6,248.0 381.7,248.0 381.9,247.9 382.0,247.9 382.1,247.9 382.3,247.9 382.4,247.9 382.5,247.9 382.7,247.9 382.8,247.9 382.9,247.9 383.1,247.8 383.2,247.8 383.3,247.8 383.5,247.8 383.6,247.9 383.7,247.9 383.8,247.9 384.0,248.0 384.1,247.9 384.2,247.9 384.4,247.9 384.5,247.9 384.6,247.9 384.8,247.9 384.9,247.9 385.0,247.9 385.2,247.9 385.3,247.9 385.4,247.9 385.5,247.9 385.7,247.9 385.8,247.9 385.9,247.9 386.1,248.0 386.2,248.0 386.3,247.9 386.5,247.9 386.6,247.9 386.7,247.8 386.9,247.8 387.0,247.8 387.1,247.8 387.3,247.9 387.4,247.9 387.5,247.9 387.6,247.9 387.8,247.9 387.9,247.9 388.0,247.9 388.2,247.9 388.3,247.9 388.4,247.9 388.6,248.0 388.7,247.9 388.8,247.9 389.0,247.9 389.1,247.9 389.2,247.9 389.3,247.9 389.5,247.9 389.6,247.9 389.7,248.0 389.9,248.0 390.0,248.0 390.1,247.9 390.3,247.9 390.4,247.9 390.5,247.9 390.7,247.9 390.8,247.9 390.9,247.9 391.1,247.9 391.2,247.9 391.3,247.8 391.4,247.8 391.6,247.8 391.7,247.8 391.8,247.8 392.0,247.8 392.1,247.7 392.2,247.5 392.4,247.2 392.5,246.6 392.6,245.8 392.8,244.6 392.9,242.8 393.0,240.0 393.2,234.9 393.3,225.2 393.4,209.5 393.5,189.7 393.7,173.2 393.8,168.3 393.9,176.7 394.1,192.2 394.2,206.7 394.3,216.6 394.5,222.5 394.6,226.5 394.7,230.0 394.9,233.3 395.0,236.5 395.1,239.3 395.2,241.7 395.4,243.6 395.5,245.1 395.6,246.1 395.8,246.8 395.9,247.3 396.0,247.6 396.2,247.7 396.3,247.8 396.4,247.9 396.6,247.9 396.7,247.9 396.8,247.9 397.0,247.9 397.1,247.9 397.2,247.9 397.3,247.9 397.5,247.9 397.6,247.9 397.7,247.9 397.9,247.9 398.0,248.0 398.1,247.9 398.3,247.9 398.4,247.9 398.5,247.8 398.7,247.8 398.8,247.8 398.9,247.8 399.1,247.9 399.2,247.9 399.3,247.9 399.4,247.9 399.6,247.9 399.7,247.9 399.8,247.9 400.0,247.9 400.1,248.0 400.2,248.0 400.4,248.0 400.5,248.0 400.6,247.9 400.8,247.9 400.9,247.9 401.0,247.9 401.1,247.9 401.3,247.9 401.4,247.9 401.5,247.9 401.7,247.9 401.8,247.9 401.9,247.9 402.1,247.9 402.2,247.9 402.3,247.9 402.5,247.9 402.6,247.9 402.7,247.9 402.9,247.9 403.0,247.9 403.1,247.8 403.2,247.8 403.4,247.8 403.5,247.9 403.6,247.9 403.8,248.0 403.9,248.0 404.0,248.0 404.2,248.0 404.3,247.9 404.4,247.9 404.6,247.9 404.7,247.9 404.8,247.9 405.0,247.9 405.1,247.9 405.2,247.9 405.3,247.9 405.5,247.9 405.6,247.9 405.7,247.9 405.9,247.9 406.0,247.9 406.1,247.9 406.3,247.9 406.4,247.9 406.5,247.9 406.7,247.8 406.8,247.8 406.9,247.8 407.0,247.8 407.2,247.9 407.3,247.9 407.4,247.9 407.6,247.9 407.7,247.9 407.8,247.9 408.0,247.9 408.1,247.9 408.2,247.9 408.4,248.0 408.5,248.0 408.6,248.0 408.8,247.9 408.9,247.9 409.0,247.9 409.1,247.8 409.3,247.8 409.4,247.9 409.5,247.9 409.7,247.9 409.8,247.9 409.9,247.9 410.1,247.9 410.2,247.9 410.3,247.9 410.5,247.8 410.6,247.8 410.7,247.9 410.9,247.9 411.0,247.9 411.1,247.9 411.2,247.9 411.4,247.9 411.5,247.9 411.6,247.9 411.8,247.9 411.9,248.0 412.0,248.0 412.2,248.0 412.3,248.0 412.4,248.0 412.6,247.9 412.7,247.9 412.8,247.9 412.9,247.9 413.1,247.9 413.2,247.9 413.3,247.9 413.5,247.9 413.6,247.9 413.7,247.9 413.9,247.9 414.0,247.9 414.1,247.9 414.3,247.9 414.4,247.9 414.5,247.9 414.7,247.9 414.8,247.9 414.9,247.8 415.0,247.8 415.2,247.8 415.3,247.9 415.4,247.9 415.6,247.9 415.7,248.0 415.8,248.0 416.0,248.0 416.1,248.0 416.2,247.9 416.4,247.9 416.5,247.9 416.6,247.9 416.7,247.9 416.9,247.9 417.0,247.9 417.1,247.9 417.3,247.8 417.4,247.8 417.5,247.8 417.7,247.9 417.8,247.9 417.9,247.9 418.1,247.9 418.2,247.9 418.3,247.9 418.5,247.9 418.6,247.8 418.7,247.8 418.8,247.8 419.0,247.9 419.1,247.9 419.2,247.9 419.4,247.9 419.5,247.9 419.6,247.9 419.8,247.9 419.9,247.9 420.0,247.9 420.2,248.0 420.3,248.0 420.4,248.0 420.6,248.0 420.7,247.9 420.8,247.9 420.9,247.8 421.1,247.8 421.2,247.8 421.3,247.9 421.5,247.9 421.6,247.9 421.7,247.9 421.9,247.9 422.0,247.9 422.1,247.9 422.3,247.9 422.4,247.9 422.5,247.9 422.6,247.9 422.8,247.9 422.9,247.9 423.0,247.9 423.2,247.9 423.3,247.9 423.4,247.9 423.6,247.9 423.7,247.9 423.8,248.0 424.0,248.0 424.1,248.0 424.2,248.0 424.4,247.9 424.5,247.9 424.6,247.9 424.7,247.9 424.9,247.9 425.0,247.9 425.1,247.9 425.3,247.9 425.4,247.9 425.5,247.8 425.7,247.8 425.8,247.9 425.9,247.9 426.1,247.9 426.2,247.9 426.3,247.9 426.5,247.9 426.6,247.9 426.7,247.9 426.8,247.9 427.0,247.8 427.1,247.9 427.2,247.9 427.4,247.9 427.5,248.0 427.6,248.0 427.8,248.0 427.9,247.9 428.0,247.9 428.2,247.9 428.3,247.9 428.4,247.9 428.5,247.9 428.7,247.9 428.8,247.9 428.9,247.9 429.1,247.8 429.2,247.8 429.3,247.8 429.5,247.8 429.6,247.9 429.7,247.9 429.9,247.9 430.0,247.9 430.1,247.9 430.3,247.9 430.4,247.9 430.5,247.9 430.6,247.9 430.8,247.9 430.9,247.9 431.0,247.9 431.2,247.9 431.3,247.9 431.4,247.9 431.6,247.9 431.7,247.9 431.8,247.9 432.0,248.0 432.1,248.0 432.2,248.0 432.4,248.0 432.5,247.9 432.6,247.9 432.7,247.8 432.9,247.8 433.0,247.8 433.1,247.8 433.3,247.9 433.4,247.9 433.5,247.9 433.7,247.9 433.8,247.9 433.9,247.9 434.1,247.9 434.2,247.9 434.3,247.9 434.4,247.9 434.6,247.9 434.7,247.9 434.8,247.9 435.0,247.9 435.1,247.9 435.2,247.9 435.4,247.9 435.5,247.9 435.6,248.0 435.8,248.0 435.9,248.0 436.0,248.0 436.2,247.9 436.3,247.9 436.4,247.9 436.5,247.9 436.7,247.9 436.8,247.9 436.9,247.9 437.1,247.9 437.2,247.8 437.3,247.8 437.5,247.8 437.6,247.8 437.7,247.9 437.9,247.9 438.0,247.9 438.1,248.0 438.3,248.0 438.4,247.9 438.5,247.9 438.6,247.9 438.8,247.9 438.9,247.9 439.0,247.9 439.2,247.9 439.3,247.9 439.4,247.9 439.6,247.9 439.7,247.9 439.8,247.9 440.0,247.9 440.1,247.9 440.2,247.9 440.3,248.0 440.5,247.9 440.6,247.9 440.7,247.9 440.9,247.8 441.0,247.8 441.1,247.8 441.3,247.8 441.4,247.8 441.5,247.9 441.7,247.9 441.8,247.9 441.9,247.9 442.1,247.9 442.2,247.9 442.3,247.9 442.4,247.9 442.6,247.9 442.7,247.9 442.8,247.9 443.0,247.9 443.1,247.9 443.2,247.9 443.4,247.9 443.5,247.9 443.6,247.9 443.8,247.9 443.9,248.0 444.0,248.0 444.1,248.0 444.3,247.9 444.4,247.9 444.5,247.9 444.7,247.8 444.8,247.8 444.9,247.8 445.1,247.9 445.2,247.9 445.3,247.9 445.5,247.9 445.6,247.8 445.7,247.9 445.9,247.9 446.0,247.9 446.1,247.9 446.2,248.0 446.4,248.0 446.5,248.0 446.6,247.9 446.8,247.9 446.9,247.9 447.0,247.9 447.2,247.9 447.3,247.9 447.4,247.9 447.6,247.9 447.7,247.9 447.8,247.9 448.0,247.9 448.1,247.9 448.2,247.9 448.3,247.9 448.5,247.9 448.6,247.9 448.7,247.9 448.9,247.9 449.0,247.8 449.1,247.8 449.3,247.8 449.4,247.8 449.5,247.8 449.7,247.9 449.8,247.9 449.9,248.0 450.0,248.0 450.2,247.9 450.3,247.9 450.4,247.9 450.6,247.9 450.7,247.9 450.8,247.9 451.0,247.9 451.1,247.9 451.2,247.9 451.4,247.9 451.5,247.9 451.6,247.9 451.8,247.9 451.9,247.9 452.0,247.9 452.1,247.9 452.3,247.9 452.4,247.9 452.5,247.9 452.7,247.8 452.8,247.8 452.9,247.8 453.1,247.8 453.2,247.8 453.3,247.9 453.5,247.9 453.6,247.9 453.7,247.9 453.9,247.9 454.0,247.9 454.1,247.9 454.2,247.9 454.4,248.0 454.5,248.0 454.6,248.0 454.8,247.9 454.9,247.9 455.0,247.9 455.2,247.9 455.3,247.9 455.4,247.9 455.6,247.9 455.7,247.9 455.8,247.9 455.9,247.9 456.1,247.9 456.2,247.9 456.3,247.9 456.5,247.9 456.6,247.9 456.7,247.9 456.9,247.9 457.0,247.9 457.1,247.9 457.3,247.8 457.4,247.8 457.5,247.8 457.7,247.8 457.8,247.9 457.9,247.9 458.0,247.9 458.2,247.9 458.3,247.9 458.4,247.8 458.6,247.7 458.7,247.7 458.8,247.6 459.0,247.5 459.1,247.5 459.2,247.4 459.4,247.3 459.5,247.2 459.6,247.1 459.8,247.0 459.9,246.9 460.0,246.8 460.1,246.7 460.3,246.6 460.4,246.5 460.5,246.5 460.7,246.3 460.8,246.2 460.9,246.2 461.1,246.1 461.2,246.1 461.3,246.1 461.5,246.2 461.6,246.2 461.7,246.3 461.8,246.4 462.0,246.5 462.1,246.5 462.2,246.6 462.4,246.7 462.5,246.8 462.6,246.9 462.8,247.0 462.9,247.1 463.0,247.2 463.2,247.3 463.3,247.3 463.4,247.4 463.6,247.5 463.7,247.6 463.8,247.6 463.9,247.7 464.1,247.8 464.2,247.8 464.3,247.8 464.5,247.8 464.6,247.8 464.7,247.8 464.9,247.8 465.0,247.8 465.1,247.9 465.3,247.9 465.4,247.9 465.5,247.9 465.7,247.9 465.8,247.9 465.9,247.9 466.0,247.9 466.2,248.0 466.3,248.0 466.4,248.0 466.6,248.0 466.7,247.9 466.8,247.9 467.0,247.9 467.1,247.9 467.2,247.9 467.4,247.9 467.5,247.9 467.6,247.9 467.7,247.9 467.9,247.9 468.0,247.9 468.1,247.9 468.3,247.9 468.4,247.9 468.5,247.9 468.7,247.9 468.8,247.9 468.9,247.9 469.1,247.9 469.2,247.8 469.3,247.8 469.5,247.9 469.6,247.9 469.7,247.9 469.8,248.0 470.0,248.0 470.1,248.0 470.2,248.0 470.4,247.9 470.5,247.9 470.6,247.9 470.8,247.9 470.9,247.9 471.0,247.9 471.2,247.9 471.3,247.9 471.4,247.9 471.5,247.8 471.7,247.8 471.8,247.9 471.9,247.9 472.1,247.9 472.2,247.9 472.3,247.9 472.5,247.9 472.6,247.9 472.7,247.9 472.9,247.8 473.0,247.8 473.1,247.9 473.3,247.9 473.4,247.9 473.5,247.9 473.6,247.9 473.8,247.9 473.9,247.9 474.0,247.9 474.2,247.9 474.3,248.0 474.4,248.0 474.6,248.0 474.7,248.0 474.8,247.9 475.0,247.9 475.1,247.8 475.2,247.8 475.4,247.8 475.5,247.8 475.6,247.9 475.7,247.9 475.9,247.9 476.0,247.9 476.1,247.9 476.3,247.9 476.4,247.9 476.5,247.9 476.7,247.9 476.8,247.9 476.9,247.9 477.1,247.9 477.2,247.9 477.3,247.9 477.4,247.9 477.6,247.9 477.7,247.9 477.8,247.9 478.0,248.0 478.1,248.0 478.2,248.0 478.4,248.0 478.5,247.9 478.6,247.9 478.8,247.9 478.9,247.9 479.0,247.9 479.2,247.9 479.3,247.9 479.4,247.9 479.5,247.9 479.7,247.9 479.8,247.8 479.9,247.8 480.1,247.9 480.2,247.9 480.3,247.9 480.5,247.9 480.6,247.9 480.7,247.9 480.9,247.9 481.0,247.8 481.1,247.8 481.3,247.8 481.4,247.9 481.5,247.9 481.6,247.9 481.8,247.9 481.9,247.9 482.0,247.9 482.2,247.9 482.3,247.8 482.4,247.8 482.6,247.8 482.7,247.8 482.8,247.8 483.0,247.7 483.1,247.7 483.2,247.6 483.3,247.6 483.5,247.6 483.6,247.5 483.7,247.5 483.9,247.5 484.0,247.5 484.1,247.5 484.3,247.5 484.4,247.4 484.5,247.3 484.7,247.3 484.8,247.2 484.9,247.2 485.1,247.2 485.2,247.1 485.3,247.1 485.4,247.0 485.6,247.0 485.7,246.9 485.8,246.9 486.0,246.9 486.1,246.8 486.2,246.8 486.4,246.8 486.5,246.7 486.6,246.7 486.8,246.6 486.9,246.5 487.0,246.5 487.2,246.5 487.3,246.5 487.4,246.5 487.5,246.5 487.7,246.5 487.8,246.5 487.9,246.5 488.1,246.5 488.2,246.6 488.3,246.6 488.5,246.7 488.6,246.7 488.7,246.8 488.9,246.8 489.0,246.8 489.1,246.8 489.2,246.9 489.4,246.9 489.5,247.0 489.6,247.1 489.8,247.2 489.9,247.2 490.0,247.3 490.2,247.3 490.3,247.3 490.4,247.4 490.6,247.4 490.7,247.4 490.8,247.4 491.0,247.5 491.1,247.5 491.2,247.5 491.3,247.6 491.5,247.6 491.6,247.6 491.7,247.6 491.9,247.7 492.0,247.7 492.1,247.8 492.3,247.8 492.4,247.8 492.5,247.8 492.7,247.8 492.8,247.8 492.9,247.8 493.0,247.8 493.2,247.8 493.3,247.9 493.4,247.9 493.6,247.9 493.7,247.9 493.8,247.9 494.0,247.9 494.1,247.9 494.2,247.9 494.4,247.9 494.5,247.9 494.6,247.9 494.8,247.9 494.9,247.9 495.0,247.8 495.1,247.8 495.3,247.8 495.4,247.8 495.5,247.8 495.7,247.9 495.8,247.9 495.9,247.9 496.1,247.9 496.2,247.9 496.3,247.9 496.5,247.9 496.6,247.9 496.7,247.9 496.9,247.9 497.0,247.9 497.1,247.9 497.2,247.9 497.4,247.9 497.5,247.9 497.6,247.9 497.8,247.9 497.9,247.9 498.0,248.0 498.2,248.0 498.3,248.0 498.4,247.9 498.6,247.9 498.7,247.9 498.8,247.8 498.9,247.8 499.1,247.8 499.2,247.9 499.3,247.9 499.5,247.9 499.6,247.9 499.7,247.9 499.9,247.9 500.0,247.9 500.1,247.9 500.3,247.9 500.4,248.0 500.5,248.0 500.7,248.0 500.8,247.9 500.9,247.9 501.0,247.9 501.2,247.9 501.3,247.9 501.4,247.9 501.6,247.9 501.7,247.9 501.8,248.0 502.0,247.9 502.1,247.9 502.2,247.9 502.4,247.9 502.5,247.9 502.6,247.9 502.8,247.9 502.9,247.9 503.0,247.9 503.1,247.8 503.3,247.8 503.4,247.8 503.5,247.8 503.7,247.8 503.8,247.9 503.9,247.9 504.1,248.0 504.2,248.0 504.3,248.0 504.5,247.9 504.6,247.9 504.7,247.9 504.8,247.9 505.0,247.9 505.1,247.9 505.2,247.9 505.4,247.9 505.5,247.9 505.6,247.9 505.8,247.9 505.9,247.9 506.0,247.9 506.2,247.9 506.3,247.9 506.4,247.9 506.6,247.9 506.7,247.9 506.8,247.9 506.9,247.8 507.1,247.8 507.2,247.8 507.3,247.8 507.5,247.9 507.6,247.9 507.7,247.9 507.9,247.9 508.0,247.9 508.1,247.9 508.3,247.9 508.4,247.9 508.5,247.9 508.7,248.0 508.8,248.0 508.9,248.0 509.0,247.9 509.2,247.9 509.3,247.9 509.4,247.9 509.6,247.9 509.7,247.9 509.8,247.9 510.0,247.9 510.1,247.9 510.2,247.9 510.4,247.9 510.5,247.9 510.6,247.9 510.7,247.8 510.9,247.9 511.0,247.9 511.1,247.9 511.3,247.9 511.4,247.9 511.5,247.8 511.7,247.8 511.8,247.9 511.9,247.9 512.1,247.9 512.2,248.0 512.3,248.0 512.5,248.0 512.6,248.0 512.7,247.9 512.8,247.9 513.0,247.9 513.1,247.9 513.2,247.9 513.4,247.9 513.5,247.9 513.6,247.9 513.8,247.9 513.9,247.9 514.0,247.9 514.2,247.9 514.3,247.9 514.4,247.9 514.6,247.9 514.7,247.9 514.8,247.9 514.9,247.9 515.1,247.8 515.2,247.8 515.3,247.8 515.5,247.8 515.6,247.9 515.7,247.9 515.9,247.9 516.0,248.0 516.1,248.0 516.3,247.9 516.4,247.9 516.5,247.9 516.6,247.9 516.8,247.9 516.9,247.9 517.0,247.9 517.2,247.9 517.3,247.9 517.4,247.9 517.6,247.9 517.7,247.9 517.8,247.9 518.0,247.9 518.1,247.9 518.2,247.9 518.4,247.9 518.5,247.9 518.6,247.9 518.7,247.8 518.9,247.8 519.0,247.8 519.1,247.8 519.3,247.9 519.4,247.9 519.5,247.9 519.7,247.9 519.8,247.9 519.9,247.9 520.1,247.9 520.2,247.9 520.3,248.0 520.4,248.0 520.6,248.0 520.7,248.0 520.8,247.9 521.0,247.9 521.1,247.9 521.2,247.8 521.4,247.9 521.5,247.9 521.6,247.9 521.8,247.9 521.9,247.9 522.0,247.9 522.2,247.9 522.3,247.9 522.4,247.9 522.5,247.9 531.3,247.9 540.0,247.9 548.8,247.9 557.5,247.9 566.2,247.9 575.0,247.9 583.7,247.9 592.5,247.9 601.2,247.9 609.9,247.9 618.7,247.9 627.4,247.9 636.2,247.9 644.9,247.9 653.6,247.9 662.4,247.9 671.1,247.9 679.9,247.9 683.7,247.9" fill="none" stroke="#ff3434" stroke-width="1.0" stroke-linejoin="round"/>
<rect x="374.50" y="157.80" width="310.40" height="102.50" fill="none" stroke="#3a3a3a" stroke-width="1"/>
<line x1="370.50" y1="247.90" x2="378.80" y2="247.90" stroke="#3a3a3a" stroke-width="1"/>
<text x="369.00" y="250.80" text-anchor="end" class="tk">0</text>
<line x1="370.50" y1="230.70" x2="378.80" y2="230.70" stroke="#3a3a3a" stroke-width="1"/>
<text x="369.00" y="233.60" text-anchor="end" class="tk">5</text>
<line x1="370.50" y1="213.50" x2="378.80" y2="213.50" stroke="#3a3a3a" stroke-width="1"/>
<text x="369.00" y="216.40" text-anchor="end" class="tk">10</text>
<line x1="370.50" y1="196.30" x2="378.80" y2="196.30" stroke="#3a3a3a" stroke-width="1"/>
<text x="369.00" y="199.20" text-anchor="end" class="tk">15</text>
<line x1="370.50" y1="179.10" x2="378.80" y2="179.10" stroke="#3a3a3a" stroke-width="1"/>
<text x="369.00" y="182.00" text-anchor="end" class="tk">20</text>
<line x1="370.50" y1="161.90" x2="378.80" y2="161.90" stroke="#3a3a3a" stroke-width="1"/>
<text x="369.00" y="164.80" text-anchor="end" class="tk">25</text>
<line x1="400.10" y1="255.00" x2="400.10" y2="265.50" stroke="#3a3a3a" stroke-width="1"/>
<text x="399.80" y="272.30" text-anchor="middle" class="tk">20</text>
<line x1="443.80" y1="255.00" x2="443.80" y2="265.50" stroke="#3a3a3a" stroke-width="1"/>
<text x="443.50" y="272.30" text-anchor="middle" class="tk">30</text>
<line x1="487.50" y1="255.00" x2="487.50" y2="265.50" stroke="#3a3a3a" stroke-width="1"/>
<text x="487.20" y="272.30" text-anchor="middle" class="tk">40</text>
<line x1="531.20" y1="255.00" x2="531.20" y2="265.50" stroke="#3a3a3a" stroke-width="1"/>
<text x="530.90" y="272.30" text-anchor="middle" class="tk">50</text>
<line x1="574.90" y1="255.00" x2="574.90" y2="265.50" stroke="#3a3a3a" stroke-width="1"/>
<text x="574.60" y="272.30" text-anchor="middle" class="tk">60</text>
<line x1="618.60" y1="255.00" x2="618.60" y2="265.50" stroke="#3a3a3a" stroke-width="1"/>
<text x="618.30" y="272.30" text-anchor="middle" class="tk">70</text>
<line x1="662.30" y1="255.00" x2="662.30" y2="265.50" stroke="#3a3a3a" stroke-width="1"/>
<text x="662.00" y="272.30" text-anchor="middle" class="tk">80</text>
<text x="529.70" y="281.80" text-anchor="middle" class="al">Time (seconds)</text>
<text transform="translate(357.20,208.05) rotate(-90)" text-anchor="middle" class="yl">Fluorescence</text>
<defs><linearGradient id="l1" x1="0" y1="0" x2="0" y2="1"><stop offset="0.0000" stop-color="#f2f2f2"/><stop offset="0.1695" stop-color="#efefef"/><stop offset="0.2090" stop-color="#e6e6e6"/><stop offset="0.2486" stop-color="#dedede"/><stop offset="0.2881" stop-color="#e6e6e6"/><stop offset="0.3164" stop-color="#e4e4e4"/><stop offset="0.3362" stop-color="#cfcfcf"/><stop offset="0.3463" stop-color="#bdbdbd"/><stop offset="0.3571" stop-color="#cfcfcf"/><stop offset="0.3785" stop-color="#e6e6e6"/><stop offset="0.4068" stop-color="#e2e2e2"/><stop offset="0.4226" stop-color="#d0d0d0"/><stop offset="0.4333" stop-color="#c3c3c3"/><stop offset="0.4441" stop-color="#d0d0d0"/><stop offset="0.4605" stop-color="#e4e4e4"/><stop offset="0.4836" stop-color="#e0e0e0"/><stop offset="0.4904" stop-color="#aaaaaa"/><stop offset="0.4960" stop-color="#969696"/><stop offset="0.5017" stop-color="#aaaaaa"/><stop offset="0.5096" stop-color="#e2e2e2"/><stop offset="0.5503" stop-color="#e8e8e8"/><stop offset="0.5554" stop-color="#b4b4b4"/><stop offset="0.5593" stop-color="#a2a2a2"/><stop offset="0.5638" stop-color="#b4b4b4"/><stop offset="0.5695" stop-color="#eaeaea"/><stop offset="0.6158" stop-color="#efefef"/><stop offset="0.6610" stop-color="#e6e6e6"/><stop offset="0.6655" stop-color="#a8a8a8"/><stop offset="0.6701" stop-color="#8e8e8e"/><stop offset="0.6746" stop-color="#a8a8a8"/><stop offset="0.6802" stop-color="#e4e4e4"/><stop offset="0.7503" stop-color="#dedede"/><stop offset="0.7554" stop-color="#8a8a8a"/><stop offset="0.7599" stop-color="#585858"/><stop offset="0.7650" stop-color="#8a8a8a"/><stop offset="0.7706" stop-color="#dadada"/><stop offset="0.8192" stop-color="#d6d6d6"/><stop offset="0.8814" stop-color="#cbcbcb"/><stop offset="0.8853" stop-color="#707070"/><stop offset="0.8881" stop-color="#0c0c0c"/><stop offset="0.8927" stop-color="#0c0c0c"/><stop offset="0.8955" stop-color="#808080"/><stop offset="0.9000" stop-color="#ececec"/><stop offset="1.0000" stop-color="#f2f2f2"/></linearGradient><linearGradient id="l2" x1="0" y1="0" x2="0" y2="1"><stop offset="0.0000" stop-color="#fafafa"/><stop offset="0.7554" stop-color="#fafafa"/><stop offset="0.7588" stop-color="#000000"/><stop offset="0.7949" stop-color="#000000"/><stop offset="0.7989" stop-color="#fafafa"/><stop offset="0.8017" stop-color="#f0f0f0"/><stop offset="0.8045" stop-color="#a8a8a8"/><stop offset="0.8130" stop-color="#a8a8a8"/><stop offset="0.8169" stop-color="#f6f6f6"/><stop offset="0.8842" stop-color="#fafafa"/><stop offset="0.8870" stop-color="#a8a8a8"/><stop offset="0.8938" stop-color="#a8a8a8"/><stop offset="0.8966" stop-color="#fafafa"/><stop offset="1.0000" stop-color="#fafafa"/></linearGradient><linearGradient id="l3" x1="0" y1="0" x2="0" y2="1"><stop offset="0.0000" stop-color="#fafafa"/><stop offset="0.8831" stop-color="#fafafa"/><stop offset="0.8859" stop-color="#2c2c2c"/><stop offset="0.8949" stop-color="#2c2c2c"/><stop offset="0.8977" stop-color="#fafafa"/><stop offset="1.0000" stop-color="#fafafa"/></linearGradient><linearGradient id="l4" x1="0" y1="0" x2="0" y2="1"><stop offset="0.0000" stop-color="#f6f6f6"/><stop offset="0.0734" stop-color="#f2f2f2"/><stop offset="0.1695" stop-color="#efefef"/><stop offset="0.2090" stop-color="#eaeaea"/><stop offset="0.2373" stop-color="#e2e2e2"/><stop offset="0.2599" stop-color="#d0d0d0"/><stop offset="0.2689" stop-color="#a8a8a8"/><stop offset="0.2746" stop-color="#202020"/><stop offset="0.2785" stop-color="#000000"/><stop offset="0.3023" stop-color="#000000"/><stop offset="0.3062" stop-color="#202020"/><stop offset="0.3119" stop-color="#a8a8a8"/><stop offset="0.3220" stop-color="#cecece"/><stop offset="0.3446" stop-color="#dcdcdc"/><stop offset="0.3842" stop-color="#e2e2e2"/><stop offset="0.4322" stop-color="#dedede"/><stop offset="0.4407" stop-color="#c0c0c0"/><stop offset="0.4458" stop-color="#484848"/><stop offset="0.4492" stop-color="#000000"/><stop offset="0.4565" stop-color="#000000"/><stop offset="0.4599" stop-color="#484848"/><stop offset="0.4650" stop-color="#c0c0c0"/><stop offset="0.4774" stop-color="#e0e0e0"/><stop offset="0.5141" stop-color="#eaeaea"/><stop offset="0.5706" stop-color="#f5f5f5"/><stop offset="0.7345" stop-color="#f7f7f7"/><stop offset="0.7599" stop-color="#f6f6f6"/><stop offset="0.7655" stop-color="#ececec"/><stop offset="0.7797" stop-color="#e6e6e6"/><stop offset="0.7853" stop-color="#dddddd"/><stop offset="0.7966" stop-color="#d8d8d8"/><stop offset="0.8023" stop-color="#b8b8b8"/><stop offset="0.8124" stop-color="#a8a8a8"/><stop offset="0.8220" stop-color="#b4b4b4"/><stop offset="0.8282" stop-color="#d8d8d8"/><stop offset="0.8362" stop-color="#f4f4f4"/><stop offset="0.8446" stop-color="#f8f8f8"/><stop offset="0.8836" stop-color="#f8f8f8"/><stop offset="0.8864" stop-color="#b2b2b2"/><stop offset="0.8944" stop-color="#b2b2b2"/><stop offset="0.8972" stop-color="#f8f8f8"/><stop offset="1.0000" stop-color="#f8f8f8"/></linearGradient></defs>
<rect x="54.2" y="364.8" width="39.9" height="177.2" fill="url(#l1)"/>
<rect x="100.2" y="364.8" width="40.2" height="177.2" fill="url(#l2)"/>
<rect x="146.4" y="364.8" width="39.9" height="177.2" fill="url(#l3)"/>
<rect x="191.9" y="364.8" width="40.0" height="177.2" fill="url(#l4)"/>
<path d="M54.2 518.9 L58.8 521.4 L62.4 522.2 L62.4 523.0 L58.8 523.4 L54.2 525.0 Z" fill="#ff22f0"/>
<path d="M100.2 518.9 L104.8 521.4 L108.4 522.2 L108.4 523.0 L104.8 523.4 L100.2 525.0 Z" fill="#ff22f0"/>
<path d="M146.4 518.9 L151.0 521.4 L154.6 522.2 L154.6 523.0 L151.0 523.4 L146.4 525.0 Z" fill="#ff22f0"/>
<path d="M191.9 518.9 L196.5 521.4 L200.1 522.2 L200.1 523.0 L196.5 523.4 L191.9 525.0 Z" fill="#ff22f0"/>
<polygon points="236.2,415.6 244,411.3 244,419.90000000000003" fill="#111"/>
<polygon points="236.2,443.3 244,439.0 244,447.6" fill="#111"/>
<polyline points="235.8,501.6 239.4,501.6 239.4,516.2 235.8,516.2" fill="none" stroke="#111" stroke-width="1.1"/>
<line x1="99.8" y1="185.8" x2="83.6" y2="206" stroke="#111" stroke-width="1.1"/>
<polygon points="80.6,209.9 82.6,201.3 88.4,206.0" fill="#111"/>
</svg>

<div class="t pk" style="left:50.2px;top:73.4px;">(1)</div>
<div class="t pk" style="left:104px;top:17.5px;">(2)</div>
<div class="t pk" style="left:128.3px;top:10.3px;">(3)</div>
<div class="t ttl" style="left:220.2px;top:22.6px;">Input total RNA</div>

<div class="t" style="left:383px;top:42.5px;font-size:13px;line-height:15.75px;white-space:pre;"><span style="word-spacing:1px;">(1) Small RNA (tRNA, snRNA, snoRNA, <i>etc.</i>)</span>
(2) 18S rRNA
(3) 28S rRNA</div>

<div class="t ttl" style="left:85.8px;top:167px;font-size:12.7px;">snRNA/snoRNA</div>
<div class="t ttl" style="left:190.3px;top:164.6px;width:140px;text-align:center;line-height:16.3px;white-space:normal;">Anti-2,2,7-<br><span style="letter-spacing:0.1px;">trimethylguanosine</span><br><span style="letter-spacing:0.2px;padding-left:3px;">(m<sub>3</sub>G/TMG) mAb</span></div>
<div class="t ttl" style="left:589.5px;top:169.7px;word-spacing:1.5px;">Mouse IgG2a</div>

<div class="t ln" style="left:64.2px;top:341.4px;">1</div>
<div class="t ln" style="left:109.6px;top:341.4px;">2</div>
<div class="t ln" style="left:156.6px;top:341.4px;">3</div>
<div class="t ln" style="left:205.2px;top:341.4px;">4</div>
<div class="t gl" style="left:26.6px;top:371.8px;font-size:12.6px;letter-spacing:0;">[nt]</div>
<div class="t sz" style="left:15px;top:403px;">6000</div>
<div class="t sz" style="left:15px;top:420.5px;">4000</div>
<div class="t sz" style="left:15px;top:436px;">3000</div>
<div class="t sz" style="left:15px;top:447.5px;">2000</div>
<div class="t sz" style="left:15px;top:459px;">1500</div>
<div class="t sz" style="left:15px;top:480.5px;">500.0</div>
<div class="t sz" style="left:15px;top:494.5px;">200.0</div>
<div class="t sz" style="left:15px;top:518px;">50.0</div>

<div class="t gl" style="left:248.3px;top:408.7px;">28S rRNA</div>
<div class="t gl" style="left:248.3px;top:436.4px;">18S rRNA</div>
<div class="t gl" style="left:248.1px;top:502.5px;">Small RNA</div>
<div class="t" style="left:247.1px;top:517.5px;font-size:13.1px;line-height:15.8px;white-space:pre;">(tRNA, snRNA,
snoRNA, <i>etc.</i>)</div>

<div class="t b" style="left:356.3px;top:468.9px;font-size:14px;line-height:16.55px;">Lane 1: Ladder<br>Lane 2: Anti-2,2,7-trimethylguanosine (m<sub>3</sub>G/TMG) mAb<br>Lane 3: Mouse IgG2a<br>Lane 4: Input total RNA</div>

<table>
<colgroup><col style="width:307px"><col style="width:126px"></colgroup>
<tr><td colspan="2" class="h">Average of the RNA Quantitiy (n=2)</td></tr>
<tr class="r2"><td>Antibody</td><td class="c">RNA (ng)</td></tr>
<tr class="r3"><td style="letter-spacing:0.12px;">Anti-2,2,7-trimethylguanosine (m<sub>3</sub>G/TMG) mAb</td><td class="c">436.0</td></tr>
<tr class="r4"><td>Mouse IgG2a</td><td class="c">84.3</td></tr>
</table>
</body></html>
